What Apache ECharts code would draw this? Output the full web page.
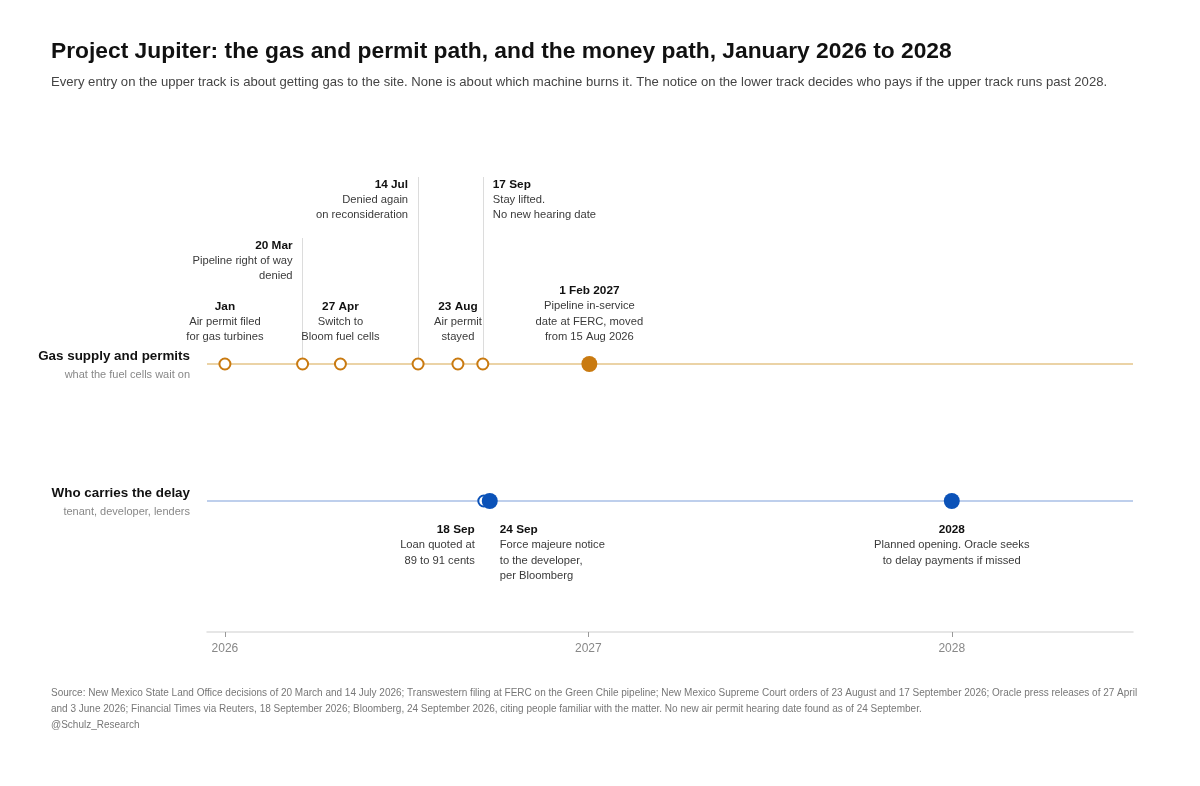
<!DOCTYPE html>
<html>
<head>
<meta charset="utf-8">
<title>Project Jupiter timeline</title>
<script src="https://cdn.jsdelivr.net/npm/echarts@6/dist/echarts.min.js"></script>
<style>
  html, body { margin: 0; padding: 0; background: #fff; }
  #chart { width: 1200px; height: 786px; }
</style>
</head>
<body>
<div id="chart"></div>
<script>
// ---- data ----
var gasDates = ['2026-01-01', '2026-03-20', '2026-04-27', '2026-07-14', '2026-08-23', '2026-09-17', '2027-01-02'];
var gasHeads = ['Jan', '20 Mar', '27 Apr', '14 Jul', '23 Aug', '17 Sep', '1 Feb 2027'];
var gasNotes = [
  ['Air permit filed', 'for gas turbines'],
  ['Pipeline right of way', 'denied'],
  ['Switch to', 'Bloom fuel cells'],
  ['Denied again', 'on reconsideration'],
  ['Air permit', 'stayed'],
  ['Stay lifted.', 'No new hearing date'],
  ['Pipeline in-service', 'date at FERC, moved', 'from 15 Aug 2026']
];
var gasFilled = [false, false, false, false, false, false, true];

var moneyDates = ['2026-09-18', '2026-09-24', '2028-01-01'];
var moneyHeads = ['18 Sep', '24 Sep', '2028'];
var moneyNotes = [
  ['Loan quoted at', '89 to 91 cents'],
  ['Force majeure notice', 'to the developer,', 'per Bloomberg'],
  ['Planned opening. Oracle seeks', 'to delay payments if missed']
];
var moneyFilled = [false, true, true];

var tickYears = ['2026', '2027', '2028'];
var axisStart = '2025-12-14';
var axisEnd = '2028-07-01';

// ---- layout / style ----
var FONT = "'Liberation Sans', Arial, Helvetica, sans-serif";
var GAS_COLOR = '#c97a10';
var GAS_TRACK = '#ebd3a6';
var MONEY_COLOR = '#0b52b8';
var MONEY_TRACK = '#a9bfe6';
var GAS_Y = 268;     // y-axis units are pixels above the time axis
var MONEY_Y = 131;

function ts(d) { return Date.parse(d + 'T00:00:00Z'); }

// label placement for each event (gap = px from point centre to label block edge)
var gasLayout = [
  { align: 'center', dx: 0, gap: 19 },
  { align: 'right', dx: -10, gap: 80, guide: 126 },
  { align: 'center', dx: 0, gap: 19 },
  { align: 'right', dx: -10, gap: 141, guide: 187 },
  { align: 'center', dx: 0, gap: 19 },
  { align: 'left', dx: 10, gap: 141, guide: 187 },
  { align: 'center', dx: 0, gap: 19 }
];
var moneyLayout = [
  { align: 'right', dx: -9, gap: 21 },
  { align: 'left', dx: 10, gap: 21 },
  { align: 'center', dx: 0, gap: 21 }
];

function makeItems(dates, heads, notes, filled, layout, yVal, color, below) {
  return dates.map(function (d, i) {
    var lay = layout[i];
    var size = filled[i] ? 16 : 11;
    var half = filled[i] ? 8 : 6.5;
    var txt = '{h|' + heads[i] + '}\n' + notes[i].map(function (n) {
      return '{t|' + n + '}';
    }).join('\n');
    return {
      value: [ts(d), yVal],
      symbolSize: size,
      itemStyle: filled[i]
        ? { color: color, borderWidth: 0, opacity: 1 }
        : { color: '#fff', borderColor: color, borderWidth: 2, opacity: 1 },
      label: {
        show: true,
        position: below ? 'bottom' : 'top',
        distance: lay.gap - half,
        align: lay.align,
        offset: [lay.dx, 0],
        formatter: txt,
        rich: {
          h: { fontFamily: FONT, fontWeight: 'bold', fontSize: 11.8, color: '#111', lineHeight: 15.5, align: lay.align },
          t: { fontFamily: FONT, fontSize: 11.2, color: '#3a3a3a', lineHeight: 15.5, align: lay.align }
        }
      }
    };
  });
}

var guideLines = [];
gasDates.forEach(function (d, i) {
  if (gasLayout[i].guide) {
    guideLines.push([{ coord: [ts(d), GAS_Y] }, { coord: [ts(d), GAS_Y + gasLayout[i].guide] }]);
  }
});

function trackLabel(title, sub) {
  return {
    show: true,
    position: 'start',
    distance: 17,
    formatter: '{a|' + title + '}\n{b|' + sub + '}',
    rich: {
      a: { fontFamily: FONT, fontWeight: 'bold', fontSize: 13.4, color: '#111', lineHeight: 22, align: 'right' },
      b: { fontFamily: FONT, fontSize: 11, color: '#888', lineHeight: 16, align: 'right' }
    }
  };
}

var yearTicks = tickYears.map(function (y) { return ts(y + '-01-01'); });

var chart = echarts.init(document.getElementById('chart'), null, { renderer: 'canvas' });

var option = {
  backgroundColor: '#fff',
  animation: false,
  textStyle: { fontFamily: FONT },
  title: [
    {
      text: 'Project Jupiter: the gas and permit path, and the money path, January 2026 to 2028',
      left: 51, top: 40, padding: 0,
      textStyle: { fontFamily: FONT, fontSize: 22.8, fontWeight: 'bold', color: '#111' }
    },
    {
      text: 'Every entry on the upper track is about getting gas to the site. None is about which machine burns it. The notice on the lower track decides who pays if the upper track runs past 2028.',
      left: 51, top: 76, padding: 0,
      textStyle: { fontFamily: FONT, fontSize: 13.1, fontWeight: 'normal', color: '#444' }
    },
    {
      text: 'Source: New Mexico State Land Office decisions of 20 March and 14 July 2026; Transwestern filing at FERC on the Green Chile pipeline; New Mexico Supreme Court orders of 23 August and 17 September 2026; Oracle press releases of 27 April\n' +
        'and 3 June 2026; Financial Times via Reuters, 18 September 2026; Bloomberg, 24 September 2026, citing people familiar with the matter. No new air permit hearing date found as of 24 September.\n' +
        '@Schulz_Research',
      left: 51, top: 685, padding: 0,
      textStyle: { fontFamily: FONT, fontSize: 10, fontWeight: 'normal', color: '#777', lineHeight: 16 }
    }
  ],
  grid: { left: 207, right: 67, top: 95, bottom: 154, containLabel: false },
  xAxis: {
    type: 'value',
    min: ts(axisStart),
    max: ts(axisEnd),
    axisLine: { show: true, lineStyle: { color: '#dedede', width: 1.5 } },
    axisTick: {
      show: true, length: 5, lineStyle: { color: '#999' },
      customValues: yearTicks
    },
    axisLabel: {
      color: '#888', fontSize: 12, fontFamily: FONT, margin: 11,
      customValues: yearTicks,
      formatter: function (v) { return String(new Date(v).getUTCFullYear()); }
    },
    splitLine: { show: false }
  },
  yAxis: {
    type: 'value', min: 0, max: 537, show: false,
    splitLine: { show: false }
  },
  series: [
    {
      // track lines with their names on the left
      type: 'scatter', data: [], silent: true, z: 1,
      markLine: {
        silent: true, symbol: 'none', animation: false, z: 1,
        data: [
          { yAxis: GAS_Y, lineStyle: { color: GAS_TRACK, width: 2, type: 'solid', opacity: 1 },
            label: trackLabel('Gas supply and permits', 'what the fuel cells wait on') },
          { yAxis: MONEY_Y, lineStyle: { color: MONEY_TRACK, width: 1.5, type: 'solid', opacity: 1 },
            label: trackLabel('Who carries the delay', 'tenant, developer, lenders') }
        ]
      }
    },
    {
      // thin leader lines for the raised labels
      type: 'scatter', data: [], silent: true, z: 1,
      markLine: {
        silent: true, symbol: 'none', animation: false, z: 1,
        lineStyle: { color: '#dcdcdc', width: 1, type: 'solid', opacity: 1 },
        label: { show: false },
        data: guideLines
      }
    },
    {
      name: 'Gas supply and permits',
      type: 'scatter', z: 3,
      itemStyle: { opacity: 1 },
      data: makeItems(gasDates, gasHeads, gasNotes, gasFilled, gasLayout, GAS_Y, GAS_COLOR, false)
    },
    {
      name: 'Who carries the delay',
      type: 'scatter', z: 3,
      itemStyle: { opacity: 1 },
      data: makeItems(moneyDates, moneyHeads, moneyNotes, moneyFilled, moneyLayout, MONEY_Y, MONEY_COLOR, true)
    }
  ]
};

chart.setOption(option);
</script>
</body>
</html>
